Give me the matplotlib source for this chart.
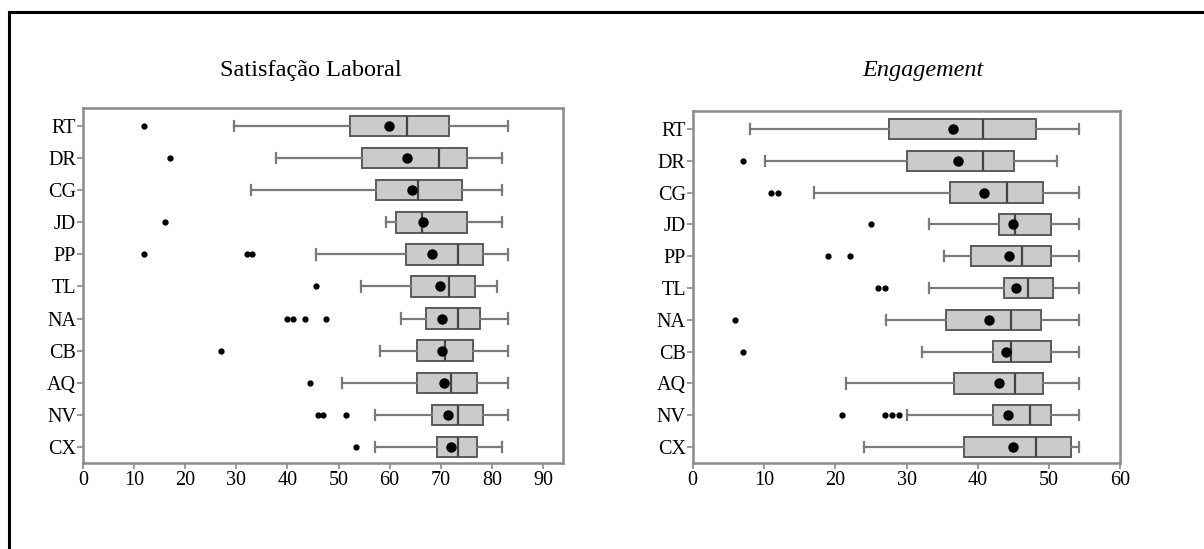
import matplotlib
matplotlib.use("Agg")
import matplotlib.pyplot as plt
from matplotlib.lines import Line2D

plt.rcParams['font.family'] = ['Liberation Serif', 'DejaVu Serif']

# categories, top to bottom
labels = ['RT', 'DR', 'CG', 'JD', 'PP', 'TL', 'NA', 'CB', 'AQ', 'NV', 'CX']

# Satisfacao Laboral
sl_whislo = [29.5, 37.7, 32.8, 59.3, 45.6, 54.3, 62.2, 58.2, 50.6, 57.2, 57.2]
sl_q1     = [52.3, 54.5, 57.3, 61.3, 63.2, 64.1, 67.2, 65.3, 65.3, 68.2, 69.2]
sl_med    = [63.3, 69.7, 65.5, 66.4, 73.3, 71.6, 73.4, 70.9, 72.0, 73.4, 73.4]
sl_q3     = [71.6, 75.2, 74.2, 75.2, 78.3, 76.7, 77.6, 76.2, 77.1, 78.2, 77.1]
sl_whishi = [83.1, 81.9, 81.9, 81.9, 83.1, 81.0, 83.1, 83.1, 83.1, 83.1, 82.0]
sl_mean   = [59.9, 63.4, 64.4, 66.6, 68.2, 69.8, 70.2, 70.2, 70.6, 71.5, 72.0]
sl_fliers = [[12], [17], [], [16], [12, 32, 33], [45.5],
             [40, 41, 43.5, 47.5], [27], [44.5], [46, 47, 51.5], [53.5]]

# Engagement
en_whislo = [8.0, 10.2, 17.0, 33.1, 35.2, 33.1, 27.1, 32.1, 21.5, 30.0, 24.1]
en_q1     = [27.6, 30.0, 36.1, 43.0, 39.1, 43.6, 35.6, 42.1, 36.7, 42.1, 38.1]
en_med    = [40.7, 40.7, 44.1, 45.2, 46.2, 47.1, 44.7, 44.7, 45.2, 47.3, 48.2]
en_q3     = [48.2, 45.1, 49.1, 50.2, 50.2, 50.6, 48.8, 50.2, 49.2, 50.2, 53.1]
en_whishi = [54.2, 51.1, 54.2, 54.2, 54.2, 54.2, 54.2, 54.2, 54.2, 54.2, 54.2]
en_mean   = [36.5, 37.2, 40.9, 44.9, 44.3, 45.3, 41.6, 43.9, 42.9, 44.2, 44.9]
en_fliers = [[], [7], [11, 12], [25], [19, 22], [26, 27],
             [6], [7], [], [21, 27, 28, 29], []]

sl_ticks = [0, 10, 20, 30, 40, 50, 60, 70, 80, 90]
en_ticks = [0, 10, 20, 30, 40, 50, 60]


def make_stats(whislo, q1, med, q3, whishi, mean, fliers):
    stats = []
    for i in range(len(labels)):
        stats.append(dict(whislo=whislo[i], q1=q1[i], med=med[i], q3=q3[i],
                          whishi=whishi[i], mean=mean[i], fliers=fliers[i],
                          label=labels[i]))
    return stats


def draw_panel(ax, stats, xmax, ticks):
    n = len(stats)
    positions = list(range(n, 0, -1))
    ax.bxp(stats, positions=positions, vert=False, widths=0.64,
           patch_artist=True, showmeans=True, showfliers=True,
           boxprops=dict(facecolor='#cbcbcb', edgecolor='#5a5a5a', linewidth=1.4),
           medianprops=dict(color='#444444', linewidth=1.6),
           whiskerprops=dict(color='#7a7a7a', linewidth=1.6),
           capprops=dict(color='#7a7a7a', linewidth=1.6),
           meanprops=dict(marker='o', markerfacecolor='black', markeredgecolor='black',
                          markersize=6.5),
           flierprops=dict(marker='o', markerfacecolor='black', markeredgecolor='black',
                           markersize=3.5))
    ax.set_xlim(0, xmax)
    ax.set_ylim(0.5, n + 0.56)
    ax.set_xticks(ticks)
    ax.set_xticklabels([str(t) for t in ticks])
    ax.set_yticks(positions)
    ax.set_yticklabels([s['label'] for s in stats])
    for sp in ax.spines.values():
        sp.set_color('#8a8a8a')
        sp.set_linewidth(1.8)
    ax.tick_params(axis='both', colors='#8a8a8a', labelcolor='black', length=4,
                   width=1.2, labelsize=14.5)
    ax.tick_params(axis='y', pad=1)
    ax.tick_params(axis='x', pad=2)
    return ax


fig = plt.figure(figsize=(12.04, 5.49), dpi=100)

ax1 = fig.add_axes([0.0689, 0.1566, 0.3987, 0.6466])
draw_panel(ax1, make_stats(sl_whislo, sl_q1, sl_med, sl_q3, sl_whishi, sl_mean, sl_fliers),
           93.9, sl_ticks)

ax2 = fig.add_axes([0.5753, 0.1566, 0.3553, 0.641])
draw_panel(ax2, make_stats(en_whislo, en_q1, en_med, en_q3, en_whishi, en_mean, en_fliers),
           60, en_ticks)

fig.text(311 / 1204, 1 - 70 / 549, 'Satisfação Laboral', ha='center', va='center',
         fontsize=17.5)
fig.text(923 / 1204, 1 - 70 / 549, 'Engagement', ha='center', va='center',
         fontsize=17.5, style='italic')

# outer frame (top and left edges visible)
fig.add_artist(Line2D([9 / 1204, 9 / 1204], [0, 1 - 12 / 549], color='black', linewidth=2.2,
                      transform=fig.transFigure))
fig.add_artist(Line2D([9 / 1204, 1], [1 - 12 / 549, 1 - 12 / 549], color='black', linewidth=2.2,
                      transform=fig.transFigure))

fig.savefig('out.png', dpi=100)
